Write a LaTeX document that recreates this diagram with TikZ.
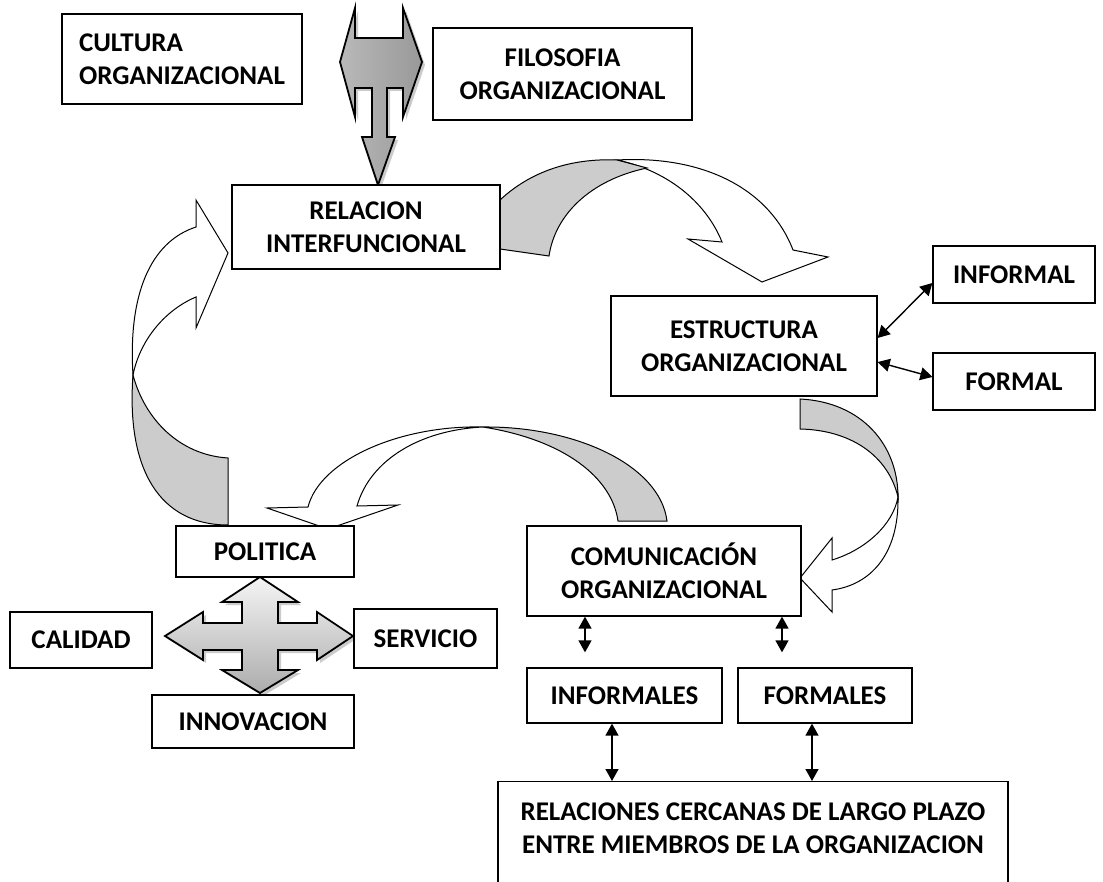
\documentclass[tikz,border=0pt]{standalone}
\usepackage{fontspec}
\setmainfont{Carlito}
\usetikzlibrary{arrows.meta}
\definecolor{band}{HTML}{CCCCCC}
\begin{document}
\begin{tikzpicture}[x=1pt,y=-1pt,
  box/.style={draw, line width=1.3pt, fill=white, inner sep=0pt, align=center,
    font=\fontsize{27}{33}\selectfont\bfseries},
  txt/.style={inner sep=0pt, align=center, font=\fontsize{27}{33}\selectfont\bfseries},
  curv/.style={draw, line width=1pt, line join=miter},
  dbl/.style={line width=1.4pt, {Triangle[length=12pt,width=13pt]}-{Triangle[length=12pt,width=13pt]}},
  fat/.style={draw, line width=1.8pt, line join=miter},
  shadow/.style={fill=black!45, opacity=0.45}]
\clip (0,0) rectangle (1103,882);
\fill[white] (0,0) rectangle (1103,882);

% ---------- curved arrows ----------
% relacion -> estructura
\path[curv, fill=white] (617,160) .. controls (705,155) and (770,190) .. (793,250)
  -- (828,257) -- (762,282) -- (688,239) -- (722,242)
  .. controls (705,200) and (665,170) .. (617,160) -- cycle;
\path[curv, fill=band] (500,200) .. controls (530,172) and (570,158) .. (617,160)
  -- (647,168) .. controls (590,180) and (555,215) .. (549,256) -- (500,249) -- cycle;

% politica -> relacion
\path[curv, fill=white] (196,227) -- (196,200) -- (228,253) -- (196,328) -- (196,297)
  .. controls (165,310) and (140,340) .. (133,375)
  .. controls (128,295) and (150,242) .. (196,227) -- cycle;
\path[curv, fill=band] (133,375) .. controls (145,420) and (180,455) .. (228,458)
  -- (228,525) .. controls (160,525) and (126,470) .. (133,375) -- cycle;

% comunicacion -> politica
\path[curv, fill=white] (308,507) -- (267,508) -- (328,529) -- (398,505) -- (357,506)
  .. controls (370,460) and (420,430) .. (483,427)
  .. controls (400,425) and (320,460) .. (308,507) -- cycle;
\path[curv, fill=band] (483,427) .. controls (575,426) and (660,465) .. (667,521)
  -- (618,521) .. controls (612,478) and (565,440) .. (483,427) -- cycle;

% estructura -> comunicacion
\path[curv, fill=band] (800,399) .. controls (862,402) and (898,445) .. (898,497)
  .. controls (888,455) and (850,430) .. (800,429) -- cycle;
\path[curv, fill=white] (898,497) .. controls (899,555) and (870,585) .. (832,590)
  -- (832,612) -- (800,578) -- (832,538) -- (832,560)
  .. controls (865,550) and (893,525) .. (898,497) -- cycle;

% ---------- block arrows ----------
\def\tarrow{(355,8) -- (355,38) -- (403,38) -- (403,8) -- (422,62) -- (403,117)
  -- (403,88) -- (387,88) -- (387,137) -- (395,137) -- (378,185) -- (362,137)
  -- (372,137) -- (372,88) -- (355,88) -- (355,117) -- (340,62) -- cycle}
\path[shadow, shift={(3,3)}] \tarrow;
\shadedraw[fat, left color=gray!55, middle color=gray!15, right color=gray!80] \tarrow;

\def\cross{(260,577) -- (298,602) -- (278,602) -- (278,623) -- (317,623) -- (317,612)
  -- (353,636) -- (317,660) -- (317,650) -- (278,650) -- (278,670) -- (298,670)
  -- (260,693) -- (222,670) -- (242,670) -- (242,650) -- (203,650) -- (203,660)
  -- (165,636) -- (203,612) -- (203,623) -- (242,623) -- (242,602) -- (222,602) -- cycle}
\path[shadow, shift={(3,3)}] \cross;
\shadedraw[fat, top color=gray!8, bottom color=gray!65] \cross;

% ---------- boxes ----------
\node[box, minimum width=240, minimum height=90, align=left] (cult) at (182,59)
  {CULTURA\\ORGANIZACIONAL};
\node[box, minimum width=259, minimum height=92] (filo) at (562.5,74)
  {FILOSOFIA\\ORGANIZACIONAL};
\node[box, minimum width=268, minimum height=84] (relac) at (366,227)
  {RELACION\\INTERFUNCIONAL};
\node[box, minimum width=266, minimum height=100] (estr) at (744,346)
  {ESTRUCTURA\\ORGANIZACIONAL};
\node[box, minimum width=162, minimum height=57] (informal) at (1014,274.5) {INFORMAL};
\node[box, minimum width=162, minimum height=57] (formal) at (1014,381.5) {FORMAL};
\node[box, minimum width=178, minimum height=51] (pol) at (265,551.5) {POLITICA};
\node[box, minimum width=274, minimum height=90] (comu) at (664,571)
  {COMUNICACIÓN\\ORGANIZACIONAL};
\node[box, minimum width=142, minimum height=56] (cal) at (81,640) {CALIDAD};
\node[box, minimum width=143, minimum height=59] (serv) at (425.5,638.5) {SERVICIO};
\node[box, minimum width=202, minimum height=53] (innov) at (253,721.5) {INNOVACION};
\node[box, minimum width=195, minimum height=55] (infs) at (624.5,695.5) {INFORMALES};
\node[box, minimum width=174, minimum height=55] (fms) at (825,695.5) {FORMALES};
\node[box, minimum width=510, minimum height=130, anchor=north] (rel) at (753,781) {};
\node[txt, anchor=north] (reltxt) at ([yshift=-22pt]rel.north)
  {RELACIONES CERCANAS DE LARGO PLAZO\\ENTRE MIEMBROS DE LA ORGANIZACION};

% ---------- connectors ----------
\draw[dbl] ([yshift=8pt]estr.east) -- ([yshift=-8.5pt]informal.west);
\draw[dbl] ([yshift=-16pt]estr.east) -- ([yshift=4.5pt]formal.west);
\draw[dbl] ([xshift=-79pt]comu.south) -- ([xshift=-39.5pt,yshift=15pt]infs.north);
\draw[dbl] ([xshift=118pt]comu.south) -- ([xshift=-43pt,yshift=15pt]fms.north);
\draw[dbl] ([xshift=-12.5pt]infs.south) -- ([xshift=-141pt]rel.north);
\draw[dbl] ([xshift=-13pt]fms.south) -- ([xshift=59pt]rel.north);
\end{tikzpicture}
\end{document}
